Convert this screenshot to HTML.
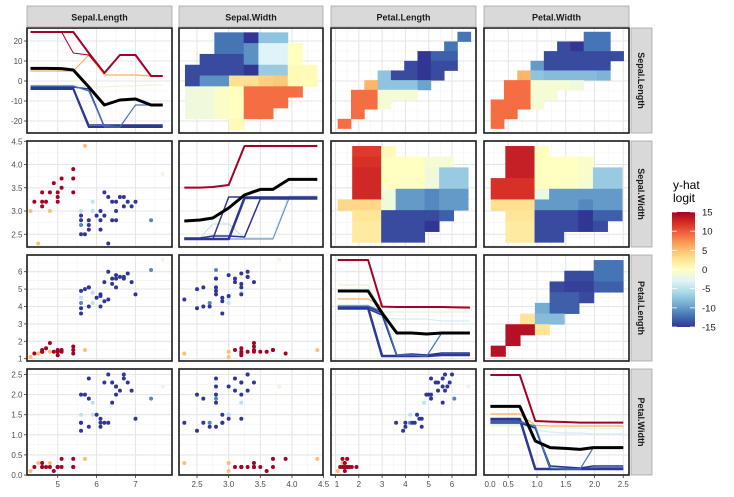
<!DOCTYPE html>
<html><head><meta charset="utf-8"><style>
html,body{margin:0;padding:0;background:#fff;}
svg{display:block;font-family:"Liberation Sans",sans-serif;}
</style></head><body>
<svg id="chart" width="734" height="497" viewBox="0 0 734 497" xmlns="http://www.w3.org/2000/svg">
<defs>
<linearGradient id="lg" x1="0" y1="0" x2="0" y2="1">
<stop offset="0" stop-color="#a50026"/><stop offset="0.1" stop-color="#d73027"/><stop offset="0.2" stop-color="#f46d43"/><stop offset="0.3" stop-color="#fdae61"/><stop offset="0.4" stop-color="#fee090"/><stop offset="0.5" stop-color="#ffffbf"/><stop offset="0.6" stop-color="#e0f3f8"/><stop offset="0.7" stop-color="#abd9e9"/><stop offset="0.8" stop-color="#74add1"/><stop offset="0.9" stop-color="#4575b4"/><stop offset="1" stop-color="#313695"/>
</linearGradient>
</defs>
<g id="legend">
<text x="673" y="189" font-size="12" fill="#000">y-hat</text>
<text x="673" y="202" font-size="12" fill="#000">logit</text>
<rect x="672" y="212" width="23" height="115" fill="url(#lg)"/>
</g>
</svg>
<script>
// ---- observation data (iris subset) ----
const obsSL=[4.4,4.6,4.6,4.6,4.7,4.8,4.9,5.0,5.0,5.0,5.1,5.1,5.4,5.4,5.4, 4.3,4.5,4.8,5.7, 7.7, 5.6,5.9,5.9, 5.6,7.4, 5.6,5.6,5.6,5.7,5.8,5.8,5.8,6.0,6.1,6.1,6.2,6.3,6.3,6.5,6.5,6.5,6.6,6.7,6.7,6.8,6.9,7.0,6.4,6.1,6.2,6.4];
const obsSW=[3.2,3.4,3.2,3.1,3.2,3.4,3.6,3.4,3.3,3.2,3.7,3.5,3.9,3.7,3.4, 3.0,2.3,3.0,4.4, 3.8, 3.0,3.2,3.0, 2.7,2.8, 2.9,2.8,2.5,2.5,2.8,2.7,2.6,2.9,2.8,2.6,3.4,3.3,2.3,2.8,3.2,3.0,3.3,3.3,3.1,3.2,3.1,3.2,2.8,3.0,2.9,3.2];
const obsPL=[1.3,1.4,1.4,1.5,1.6,1.9,1.4,1.5,1.4,1.2,1.5,1.4,1.3,1.5,1.7, 1.1,1.3,1.4,1.5, 6.7, 4.5,4.8,4.2, 4.2,6.1, 3.6,4.9,3.9,5.0,5.1,4.0,5.1,4.5,4.7,4.0,5.4,6.0,4.4,5.6,5.1,5.8,5.7,5.7,5.6,5.9,5.4,4.7,5.6,4.6,4.3,5.3];
const obsPW=[0.2,0.3,0.2,0.2,0.2,0.2,0.1,0.2,0.2,0.2,0.4,0.2,0.4,0.2,0.2, 0.1,0.3,0.3,0.4, 2.2, 1.5,1.8,1.5, 1.3,1.9, 1.3,2.0,1.1,2.0,2.4,1.2,1.9,1.5,1.2,1.3,2.3,2.5,1.3,2.2,2.0,2.2,2.1,2.5,2.4,2.3,2.1,1.4,1.8,1.4,1.3,2.3];
const obsLogit=[15,15,15,15,15,15,15,15,15,15,15,15,15,15,15, 5,5,5,5, -2, -5,-5,-5, -11,-11, -15,-15,-15,-15,-15,-15,-15,-15,-15,-15,-15,-15,-15,-15,-15,-15,-15,-15,-15,-15,-15,-15,-15,-15,-15,-15];

// ---- diagonal line plots (logit vs feature grid) ----
const gridSL=[4.3,4.7,5.1,5.4,5.8,6.2,6.6,7.0,7.4,7.7];
const d1Red=[24.5,24.5,24.5,24.5,14,4,13,13,2.5,2.5];
const d1Red2=[24.5,24.5,24.5,14,13,4,13,13,2.5,2.5];
const d1Orange=[5,5,5,5,13,3,3,3,2.5,2.5];
const d1Green=[-2,-2,-2,-2,-3,-3,-2.5,-2.5,-2,-2];
const d1Blue1=[-4,-4,-4,-4,-23,-23,-23,-23,-23,-23];
const d1Blue2=[-3,-3,-3,-3,-4,-23,-22.5,-22.5,-22.5,-22.5];
const d1Mid=[-2.5,-2.5,-2.5,-2.5,-5,-23,-23,-12,-12,-12];
const d1Blue4=[-3.5,-3.5,-3.5,-3.5,-22,-22,-22,-22,-22,-22];
const d1Black=[6.3,6.3,6.2,5.5,-3,-12,-9.5,-9,-12,-12];

const gridSW=[2.3,2.55,2.75,3.0,3.25,3.5,3.7,3.95,4.4];
const d2Red=[3.2,3.2,3.5,4.5,24,24,24,24,24];
const d2Blue1=[-22.5,-22.5,-22.5,-22.5,-2,-2,-2,-2,-2];
const d2Blue2=[-22.5,-22.5,-22.5,-1.5,-1.5,-1.5,-1.5,-1.5,-1.5];
const d2Blue3=[-22.5,-22.5,-22.5,-22.5,-22.5,-22.5,-22.5,-2.5,-2.5];
const d2Light=[-22,-22,-15,-15,-22,-22,-22,-1,-1];
const d2Blue4=[-22,-22,-21,-21,-21.5,-2.5,-2.5,-2.5,-2.5];
const d2Black=[-13.5,-13,-12,-7,-0.5,2.3,2.3,7.3,7.3];

const gridPL=[1.1,2.4,3.0,3.63,4.27,4.92,5.56,6.2,6.77];
const d3Red=[24,24,0.7,0.5,0.5,0.5,0.5,0.3,0.2];
const d3Green=[11.5,11.5,-2,-2,-2,-2,-2,-2,-2];
const d3Orange=[4.5,4.5,0.7,0.5,0.5,0.5,0.5,0.5,0.5];
const d3Light=[1.5,1.5,-5,-5.5,-5.5,-5.5,-6.5,-6.5,-6.5];
const d3Blue1=[0,0,-24,-24,-24,-24,-23.5,-23.5,-23.5];
const d3Blue2=[-0.5,-0.5,-3.5,-24,-24,-24,-23.5,-23.5,-23.5];
const d3Mid=[1,1,-1.5,-23.5,-23.5,-24,-12.5,-12.5,-12.5];
const d3Blue4=[0.5,0.5,-2.5,-23.5,-23,-23.5,-22.5,-22.5,-22.5];
const d3Black=[8.5,8.5,-2.5,-12.5,-12.5,-13,-12.5,-12.5,-12.5];

const gridPW=[0.19,0.7,0.97,1.23,1.49,1.75,1.98,2.24,2.5];
const d4Red=[23.5,23.5,0.5,0.2,0,-0.3,-0.3,-0.3,-0.3];
const d4Orange=[4,4,-1.7,-2,-2,-2,-2,-2,-2];
const d4Green=[-2,-2,-3,-3,-3,-3,-3.5,-3.5,-3.5];
const d4Light=[-1,-1,-4,-5,-5.5,-5.5,-6,-6,-6];
const d4Blue1=[1.5,1.5,-23.5,-23.5,-23.5,-23.5,-23.5,-23.5,-23.5];
const d4Blue2=[0.5,0.5,-3,-23.5,-23.5,-23.5,-23,-23,-23];
const d4Mid=[0,0,-2,-23,-23.5,-23.5,-12.8,-12.8,-12.8];
const d4Blue4=[-0.5,-0.5,-3,-22,-22.5,-23,-22,-22,-22];
const d4Black=[7.8,7.8,-9.5,-12.8,-13.2,-13.7,-12.8,-12.8,-12.8];

// ---- heatmaps: [x origin, x bin width, y top edge, y bin height] in data units, then logit grid (top row first) ----
const N=null;
const heat12Bins=[2.31,0.232,7.88,0.4];
const heat12=[[N,N,-12,-12,-15,-7.5,-7.5,N,N],[N,N,-12,-12,-10.5,-3,-3,0,N],[N,-14,-14,-14,-10.5,-3,-3,0,N],[-14,-14,-14,-14,-15,-7,-7,0.5,0.5],[-14,-10.5,-10.5,3,3,4,4.5,0.5,0.5],[-1.5,-1.5,-0.5,0,9,9,9,9,N],[-1.5,-1.5,-0.5,0,9,9,9,N,N],[-1.5,-1.5,-0.5,0,9,9,N,N,N],[N,N,N,0.5,N,N,N,N,N]];
const heat13Bins=[1.094,0.571,7.90,0.358];
const heat13=[[N,N,N,N,N,N,N,N,N,-12],[N,N,N,N,N,N,N,N,-12,N],[N,N,N,N,N,N,-15,-13,-13,N],[N,N,N,N,N,-14,-15,-14,-14,N],[N,N,N,-7.5,-14,-14,-15,-14,N,N],[N,N,5.5,-7.5,-7.5,-7.5,-9.5,N,N,N],[N,9,9,-1,-1,-1,N,N,N,N],[N,9,9,-1,N,N,N,N,N,N],[N,9,N,N,N,N,N,N,N,N],[9,N,N,N,N,N,N,N,N,N]];
const heat14Bins=[0.195,0.231,7.90,0.358];
const heat14=[[N,N,N,N,N,N,N,-12,-12,N],[N,N,N,N,N,-14,-15,-12,-12,N],[N,N,N,N,-14,-14,-14,-14,-14,-14],[N,N,N,-10,-14,-14,-14,-14,-14,N],[N,N,5.5,-7.5,-8,-8,-8,-8,-8.5,N],[N,9,9,-1,-1,-1,-1.5,N,N,N],[N,9,9,-1,-1,N,N,N,N,N],[9,9,9,-1,N,N,N,N,N,N],[9,9,N,N,N,N,N,N,N,N],[9,N,N,N,N,N,N,N,N,N]];
const heat23Bins=[1.094,0.622,4.398,0.23];
const heat23=[[N,11.5,11.5,0.5,N,N,N,N,N],[N,12,12,0,0,0,-1,-1,N],[N,12.5,12.5,0,0,0,-1.5,-7,-7],[N,12.5,12.5,0,0,0,-1.5,-7,-7],[N,12.5,12.5,-1.5,-10,-10,-11,-10,-10],[3.5,3.5,3.5,-1.5,-10,-10,-11,-10,-10],[N,2.5,2.5,-14,-14,-14,-14,-13,N],[N,2,2,-14,-14,-14,-15,N,N],[N,2,2,-14,-14,-14,N,N,N]];
const heat24Bins=[0.195,0.254,4.398,0.23];
const heat24=[[N,13,13,0,N,N,N,N,N],[N,13,13,0,0,0,-0.5,N,N],[N,13,13,0,0,0,-0.5,-7,-7],[12,12,12,0,0,0,-1,-7,-7],[12,12,12,-2,-10,-10,-10,-10,-10],[3,3,3,-10,-10,-10,-11,-10,-10],[N,2.5,2.5,-14,-14,-14,-15,-13,-13],[N,2,2,-14,-14,-14,-15,-14,N],[N,2,2,-14,-14,N,N,N,N]];
const heat34Bins=[0.195,0.256,6.67,0.615];
const heat34=[[N,N,N,N,N,N,N,-12,-12],[N,N,N,N,N,-14,-14,-12,-12],[N,N,N,N,-14,-14.5,-14.5,-13,-13],[N,N,N,N,-13,-13,-14,N,N],[N,N,N,-9,-13,-13,N,N,N],[N,N,2.5,-8,-8,N,N,N,N],[N,14,14,2.5,N,N,N,N,N],[N,14,N,N,N,N,N,N,N],[14,N,N,N,N,N,N,N,N]];

// ---- axis ticks ----
const varNames=["Sepal.Length","Sepal.Width","Petal.Length","Petal.Width"];
const colTicks=[[5,6,7],[2.5,3,3.5,4,4.5],[1,2,3,4,5,6],[0,0.5,1,1.5,2,2.5]];
const colTickLabels=[["5","6","7"],["2.5","3.0","3.5","4.0","4.5"],["1","2","3","4","5","6"],["0.0","0.5","1.0","1.5","2.0","2.5"]];
const colMinor=[[4.5,5.5,6.5,7.5],[2.75,3.25,3.75,4.25],[1.5,2.5,3.5,4.5,5.5,6.5],[0.25,0.75,1.25,1.75,2.25]];
const rowTicks=[[-20,-10,0,10,20],[2.5,3,3.5,4,4.5],[1,2,3,4,5,6],[0,0.5,1,1.5,2,2.5]];
const rowTickLabels=[["-20","-10","0","10","20"],["2.5","3.0","3.5","4.0","4.5"],["1","2","3","4","5","6"],["0.0","0.5","1.0","1.5","2.0","2.5"]];
const rowMinor=[[-25,-15,-5,5,15,25],[2.25,2.75,3.25,3.75,4.25],[1.5,2.5,3.5,4.5,5.5,6.5],[0.25,0.75,1.25,1.75,2.25]];
const legendVals=[15,10,5,0,-5,-10,-15];

// ---- layout & scales ----
const colL=[27,179,331,484], colR=[172,323,476,629];
const rowT=[28,141,255,369], rowB=[133,247,361,475];
const xS=[v=>57.7+(v-5)*38.9, v=>197+(v-2.5)*63.3, v=>335.5+(v-1)*23.3, v=>479.5+v*57.5];
const yS=[v=>81-2*v, v=>211-(v-3)*46.5, v=>358.7-(v-1)*17.4, v=>475-v*40.2];
const ySLheat=v=>129-(v-4.3)*27;
const yLog=(r,L)=>rowT[r]+53-2*L;
const yLegend=v=>269.5-v*115/30;

const stops=["#a50026","#d73027","#f46d43","#fdae61","#fee090","#ffffbf","#e0f3f8","#abd9e9","#74add1","#4575b4","#313695"];
function hex(c){return [1,3,5].map(i=>parseInt(c.substr(i,2),16));}
function col(v){
  let t=(15-Math.max(-15,Math.min(15,v)))/3; let i=Math.min(9,Math.floor(t)); let f=t-i;
  const a=hex(stops[i]),b=hex(stops[i+1]);
  return "rgb("+a.map((x,k)=>Math.round(x+(b[k]-x)*f)).join(",")+")";
}
const NS="http://www.w3.org/2000/svg";
const svg=document.getElementById("chart");
const legendG=document.getElementById("legend");
function el(tag,attrs,parent){const e=document.createElementNS(NS,tag);for(const k in attrs)e.setAttribute(k,attrs[k]);(parent||svg).appendChild(e);return e;}

// clip paths
const defs=svg.querySelector("defs");
for(let r=0;r<4;r++)for(let c=0;c<4;c++){
  const cp=el("clipPath",{id:"cp"+r+c},defs);
  el("rect",{x:colL[c],y:rowT[r],width:colR[c]-colL[c],height:rowB[r]-rowT[r]},cp);
}

const yHeat=[ySLheat,yS[1],yS[2]];
const heatDefs=[[0,1,heat12Bins,heat12],[0,2,heat13Bins,heat13],[0,3,heat14Bins,heat14],[1,2,heat23Bins,heat23],[1,3,heat24Bins,heat24],[2,3,heat34Bins,heat34]];
const diagDefs=[
 [gridSL,[[d1Green,"#e6f5d0",1],[d1Orange,"#fdae61",1.2],[d1Red2,"#a50026",1],[d1Red,"#a50026",2],[d1Blue4,"#283593",1.5],[d1Blue2,"#313695",1.5],[d1Blue1,"#2b3990",2],[d1Mid,"#4575b4",1.2],[d1Black,"#000",3]]],
 [gridSW,[[d2Light,"#c6e3ef",1.2],[d2Blue3,"#5d86bd",1],[d2Blue4,"#283593",1.5],[d2Blue2,"#313695",1.5],[d2Blue1,"#2b3990",2.5],[d2Red,"#a50026",2],[d2Black,"#000",3]]],
 [gridPL,[[d3Green,"#e6f5d0",1.2],[d3Light,"#d4ecf3",1.2],[d3Orange,"#fdae61",1.2],[d3Red,"#a50026",2],[d3Blue4,"#283593",1.5],[d3Blue2,"#313695",1.5],[d3Blue1,"#2b3990",2.5],[d3Mid,"#4575b4",1.2],[d3Black,"#000",3]]],
 [gridPW,[[d4Green,"#e6f5d0",1.2],[d4Light,"#d4ecf3",1.2],[d4Orange,"#fdae61",1.2],[d4Red,"#a50026",2],[d4Blue4,"#283593",1.5],[d4Blue2,"#313695",1.5],[d4Blue1,"#2b3990",2.5],[d4Mid,"#4575b4",1.2],[d4Black,"#000",3]]]
];
const obsVars=[obsSL,obsSW,obsPL,obsPW];
const seriesNames=["green","light","orange","red","blue-a","blue-b","blue-c","blue-d","black"];

for(let r=0;r<4;r++)for(let c=0;c<4;c++){
  const g=el("g",{});
  
  
  const bg=el("rect",{x:colL[c],y:rowT[r],width:colR[c]-colL[c],height:rowB[r]-rowT[r],fill:"#fff"},g);
  
  
  const grid=el("g",{"clip-path":"url(#cp"+r+c+")"},g);
  
  
  colMinor[c].forEach(v=>el("line",{x1:xS[c](v),x2:xS[c](v),y1:rowT[r],y2:rowB[r],stroke:"#f2f2f2","stroke-width":0.6},grid));
  rowMinor[r].forEach(v=>el("line",{y1:yS[r](v),y2:yS[r](v),x1:colL[c],x2:colR[c],stroke:"#f2f2f2","stroke-width":0.6},grid));
  colTicks[c].forEach(v=>el("line",{x1:xS[c](v),x2:xS[c](v),y1:rowT[r],y2:rowB[r],stroke:"#e6e6e6","stroke-width":1.1},grid));
  rowTicks[r].forEach(v=>el("line",{y1:yS[r](v),y2:yS[r](v),x1:colL[c],x2:colR[c],stroke:"#e6e6e6","stroke-width":1.1},grid));
  const data=el("g",{"clip-path":"url(#cp"+r+c+")"},g);
  
  
  if(r===c){
    const [xs,series]=diagDefs[r];
    series.forEach((s,si)=>{
      const pts=xs.map((x,i)=>xS[c](x).toFixed(1)+","+yLog(r,s[0][i]).toFixed(1)).join(" ");
      const pl=el("polyline",{points:pts,fill:"none",stroke:s[1],"stroke-width":s[2],"stroke-linejoin":"round"},data);
      
      
    });
  } else if(r>c){
    const xv=obsVars[c], yv=obsVars[r];
    const order=obsLogit.map((v,i)=>i).sort((a,b)=>Math.abs(obsLogit[a])-Math.abs(obsLogit[b]));
    order.forEach(i=>{
      const p=el("circle",{cx:xS[c](xv[i]),cy:yS[r](yv[i]),r:2,fill:col(obsLogit[i])},data);
      
      
    });
  } else {
    const hd=heatDefs.find(h=>h[0]===r&&h[1]===c);
    const [x0,dx,y0,dy]=hd[2]; const vals=hd[3]; const ys=yHeat[r];
    vals.forEach((row,ri)=>row.forEach((v,ci)=>{
      if(v===null)return;
      const xa=xS[c](x0+ci*dx), xb=xS[c](x0+(ci+1)*dx);
      const ya=ys(y0-ri*dy), yb=ys(y0-(ri+1)*dy);
      const cell=el("rect",{x:xa,y:ya,width:xb-xa+0.4,height:yb-ya+0.4,fill:col(v)},data);
      
      
    }));
  }
  const bd=el("rect",{x:colL[c],y:rowT[r],width:colR[c]-colL[c],height:rowB[r]-rowT[r],fill:"none",stroke:"#1a1a1a","stroke-width":1.6},g);
  
  
}

// top strips
for(let c=0;c<4;c++){
  const s=el("rect",{x:colL[c],y:6,width:colR[c]-colL[c],height:21,fill:"#d9d9d9",stroke:"#a6a6a6","stroke-width":0.8});
  
  
  const t=el("text",{x:(colL[c]+colR[c])/2,y:20.5,"text-anchor":"middle","font-size":9,"font-weight":"bold",fill:"#1a1a1a"});
  t.textContent=varNames[c];
  
  
}
// right strips
for(let r=0;r<4;r++){
  const s=el("rect",{x:631,y:rowT[r],width:21,height:rowB[r]-rowT[r],fill:"#d9d9d9",stroke:"#a6a6a6","stroke-width":0.8});
  
  
  const cy=(rowT[r]+rowB[r])/2;
  const t=el("text",{x:638,y:cy,"text-anchor":"middle","font-size":9,"font-weight":"bold",fill:"#1a1a1a",transform:"rotate(90 638 "+cy+")"});
  t.textContent=varNames[r];
  
  
}
// y axis labels & ticks
for(let r=0;r<4;r++){
  rowTicks[r].forEach((v,i)=>{
    const y=yS[r](v);
    const tk=el("line",{x1:24,x2:27,y1:y,y2:y,stroke:"#333","stroke-width":0.8});
    
    
    const t=el("text",{x:22.5,y:y+3,"text-anchor":"end","font-size":8,fill:"#4d4d4d"});
    t.textContent=rowTickLabels[r][i];
    
    
  });
}
// x axis labels & ticks
for(let c=0;c<4;c++){
  colTicks[c].forEach((v,i)=>{
    const x=xS[c](v);
    if(x<colL[c]-0.5) return;
    const tk=el("line",{x1:x,x2:x,y1:475,y2:478,stroke:"#333","stroke-width":0.8});
    
    
  });
  colTicks[c].forEach((v,i)=>{
    const x=Math.max(xS[c](v),colL[c]+6);
    const t=el("text",{x:x,y:487,"text-anchor":"middle","font-size":8,fill:"#4d4d4d"});
    t.textContent=colTickLabels[c][i];
    
    
  });
}
// legend ticks & labels
legendVals.forEach(v=>{
  const y=yLegend(v);
  const a=el("line",{x1:672,x2:677,y1:y,y2:y,stroke:"#fff","stroke-width":0.8},legendG);
  
  
  const b=el("line",{x1:690,x2:695,y1:y,y2:y,stroke:"#fff","stroke-width":0.8},legendG);
  
  
  const t=el("text",{x:702,y:y+3.5,"font-size":9.5,fill:"#1a1a1a"},legendG);
  t.textContent=String(v);
  
  
});
</script>
</body></html>
